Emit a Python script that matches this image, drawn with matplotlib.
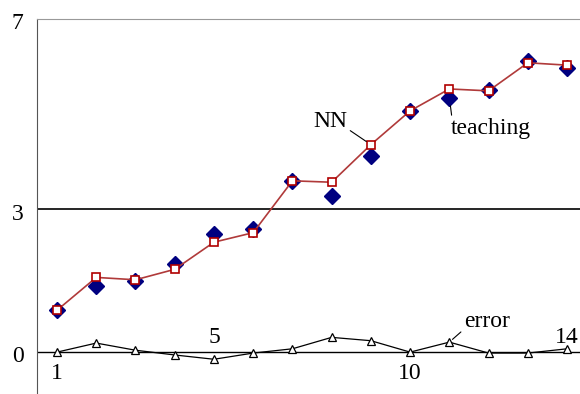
import matplotlib
matplotlib.use("Agg")
import matplotlib.pyplot as plt

plt.rcParams['font.family'] = ['Liberation Serif', 'DejaVu Serif']

x = list(range(1, 15))
nn = [0.88, 1.57, 1.52, 1.74, 2.31, 2.51, 3.60, 3.57, 4.36, 5.07, 5.53, 5.49, 6.08, 6.03]
teaching = [0.88, 1.39, 1.49, 1.86, 2.49, 2.59, 3.60, 3.29, 4.13, 5.07, 5.35, 5.51, 6.12, 5.98]
error = [0.0, 0.19, 0.04, -0.06, -0.15, -0.02, 0.07, 0.31, 0.24, 0.0, 0.21, -0.02, -0.02, 0.07]
y_ticks = [0, 3, 7]
x_labels = {1: 'below', 5: 'above', 10: 'below', 14: 'above'}

fig = plt.figure(figsize=(5.8, 3.94), dpi=100)
ax = fig.add_axes([37/580, 0, 543/580, 375/394])
ax.set_xlim(0.49, 14.33)
ax.set_ylim(-0.88, 7)

for s in ['right', 'bottom']:
  ax.spines[s].set_visible(False)
ax.spines['top'].set_color('#999999')
ax.spines['left'].set_color('#555555')
ax.set_xticks([])
ax.set_yticks([])

ax.axhline(3, color='black', lw=1.2, zorder=1)
ax.axhline(0, color='black', lw=1.0, zorder=1)

ax.plot(x, teaching, ls='none', marker='D', markersize=8, color='#000080', zorder=2)
ax.plot(x, nn, color='#b03a3a', lw=1.2, marker='s', markersize=5.5,
        markerfacecolor='white', markeredgecolor='#b00000', markeredgewidth=1.2, zorder=3)
ax.plot(x, error, color='black', lw=0.9, marker='^', markersize=5.5,
        markerfacecolor='white', markeredgecolor='black', markeredgewidth=0.9, zorder=3)

for v in y_ticks:
  ax.text(-0.025, v - 0.1, str(v), transform=ax.get_yaxis_transform(), ha='right', va='center', fontsize=17)

for k, pos in x_labels.items():
  if pos == 'below':
    ax.text(k, -0.45, str(k), ha='center', va='center', fontsize=17)
  else:
    ax.text(k, 0.3, str(k), ha='center', va='center', fontsize=17)

ax.annotate('NN', xy=(x[8], nn[8]), xytext=(7.97, 4.85), fontsize=17, ha='center', va='center',
            arrowprops=dict(arrowstyle='-', color='black', lw=0.8, shrinkA=0, shrinkB=4, relpos=(0.95, 0.2)))
ax.annotate('teaching', xy=(x[10], teaching[10]), xytext=(12.05, 4.7), fontsize=17, ha='center', va='center',
            arrowprops=dict(arrowstyle='-', color='black', lw=0.8, shrinkA=0, shrinkB=6, relpos=(0.02, 0.95)))
ax.annotate('error', xy=(x[10], error[10]), xytext=(11.95, 0.65), fontsize=17, ha='center', va='center',
            arrowprops=dict(arrowstyle='-', color='black', lw=0.8, shrinkA=0, shrinkB=3, relpos=(0.05, 0.2)))

fig.savefig('out.png', dpi=100)
